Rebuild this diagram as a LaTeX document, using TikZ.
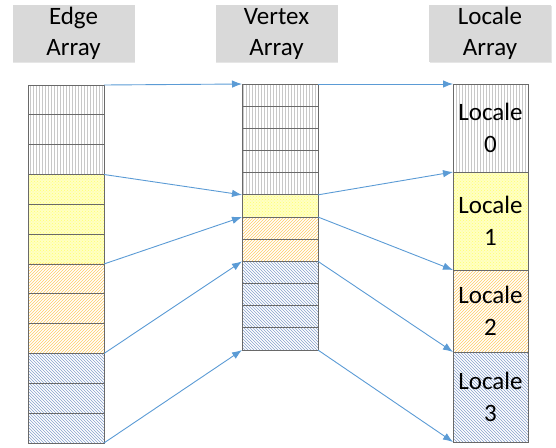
\documentclass[tikz,border=0pt]{standalone}
\usepackage{fontspec}
\setmainfont{Carlito}
\usetikzlibrary{arrows.meta,patterns,shadows}

\definecolor{linkblue}{RGB}{91,155,213}
\definecolor{rowgray}{RGB}{105,105,105}
\definecolor{hatchgray}{RGB}{200,200,200}
\definecolor{dotyellow}{RGB}{255,255,110}
\definecolor{paleyellow}{RGB}{255,255,195}
\definecolor{hatchorange}{RGB}{255,205,100}
\definecolor{hatchblue}{RGB}{135,160,205}
\definecolor{headgray}{RGB}{217,217,217}

\tikzset{
  head/.style={fill=headgray, minimum width=122pt, minimum height=57pt, inner sep=0pt,
    align=center, font=\fontsize{25}{31}\selectfont,
    drop shadow={shadow xshift=0.8pt, shadow yshift=-1.2pt, opacity=0.2}},
  cell/.style={draw=rowgray, line width=0.8pt, inner sep=0pt, outer sep=0pt,
    anchor=north west, minimum width=76pt, align=center, font=\fontsize{25}{32}\selectfont},
  gcell/.style={cell, preaction={fill=white}, pattern=vertical lines, pattern color=hatchgray},
  ycell/.style={cell, preaction={fill=paleyellow}, pattern=crosshatch dots, pattern color=dotyellow},
  ocell/.style={cell, preaction={fill=white}, pattern=north east lines, pattern color=hatchorange},
  bcell/.style={cell, preaction={fill=white}, pattern=north west lines, pattern color=hatchblue},
  link/.style={draw=linkblue, line width=0.9pt, -{Latex[length=10pt,width=7.5pt]}},
}

\begin{document}
\begin{tikzpicture}[x=1pt,y=-1pt]
    \useasboundingbox (0,0) rectangle (556,447);

    % Headers
    \node[head] (hedge) at (73.5,33.5) {Edge\\Array};
    \node[head] (hvert) at (276.5,33.5) {Vertex\\Array};
    \node[head] (hloc) at (490,33.5) {Locale\\Array};

    % Edge array
    \foreach \i/\s in {0/gcell,1/gcell,2/gcell,3/ycell,4/ycell,5/ycell,
                       6/ocell,7/ocell,8/ocell,9/bcell,10/bcell,11/bcell}
        \node[\s, minimum height=29.83pt] (e\i) at (28,{85+29.83*\i}) {};

    % Vertex array
    \foreach \i/\s in {0/gcell,1/gcell,2/gcell,3/gcell,4/gcell,5/ycell,
                       6/ocell,7/ocell,8/bcell,9/bcell,10/bcell,11/bcell}
        \node[\s, minimum height=22.17pt] (v\i) at (242,{84+22.17*\i}) {};

    % Locale array
    \node[gcell, minimum width=75pt, minimum height=88pt] (l0) at (453,84) {Locale\\0};
    \node[ycell, minimum width=75pt, minimum height=98pt] (l1) at (453,172) {Locale\\1};
    \node[ocell, minimum width=75pt, minimum height=82pt] (l2) at (453,270) {Locale\\2};
    \node[bcell, minimum width=75pt, minimum height=90pt] (l3) at (453,352) {Locale\\3};

    % Edge -> Vertex
    \draw[link] (e0.north east) -- (v0.north west);
    \draw[link] (e3.north east) -- (v5.north west);
    \draw[link] (e6.north east) -- (v6.north west);
    \draw[link] (e9.north east) -- (v8.north west);
    \draw[link] (e11.south east) -- (v11.south west);

    % Vertex -> Locale
    \draw[link] (v0.north east) -- (l0.north west);
    \draw[link] (v5.north east) -- (l1.north west);
    \draw[link] (v6.north east) -- (l2.north west);
    \draw[link] (v8.north east) -- (l3.north west);
    \draw[link] (v11.south east) -- (l3.south west);
\end{tikzpicture}
\end{document}
